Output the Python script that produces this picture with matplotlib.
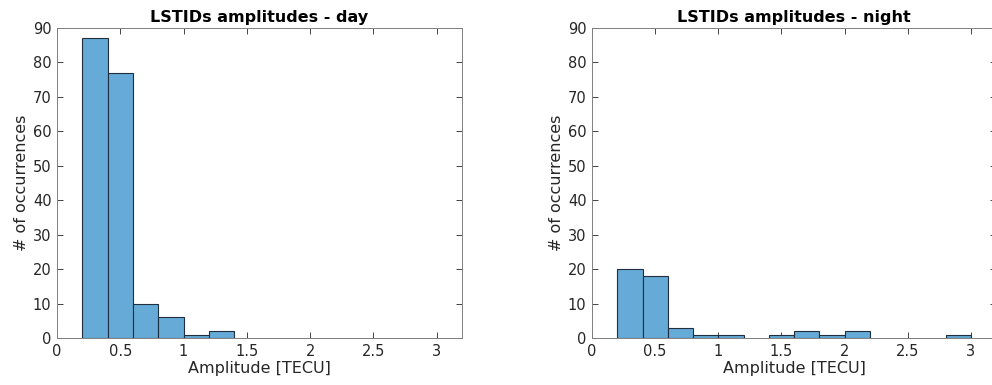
import numpy as np
import matplotlib
matplotlib.use('Agg')
import matplotlib.pyplot as plt

plt.rcParams['font.family'] = ['DejaVu Sans']

# bin edges (TECU), width 0.2
bin_edges = [0.2, 0.4, 0.6, 0.8, 1.0, 1.2, 1.4, 1.6, 1.8, 2.0, 2.2, 2.4, 2.6, 2.8, 3.0]
day_counts = [87, 77, 10, 6, 1, 2, 0, 0, 0, 0, 0, 0, 0, 0]
night_counts = [20, 18, 3, 1, 1, 0, 1, 2, 1, 2, 0, 0, 0, 1]
titles = ['LSTIDs amplitudes - day', 'LSTIDs amplitudes - night']
xticks = [0, 0.5, 1, 1.5, 2, 2.5, 3]
xticklabels = ['0', '0.5', '1', '1.5', '2', '2.5', '3']
yticks = np.arange(0, 100, 10)

face = '#66AAD7'
edge = '#1f2f3f'
axcol = '#262626'

fig = plt.figure(figsize=(9.92, 3.85), dpi=100)
positions = [[57 / 992, 47 / 385, 405 / 992, 310 / 385],
             [592 / 992, 47 / 385, 404 / 992, 310 / 385]]

for pos, counts, title in zip(positions, [day_counts, night_counts], titles):
    ax = fig.add_axes(pos)
    edges = np.array(bin_edges)
    for left, right, c in zip(edges[:-1], edges[1:], counts):
        if c > 0:
            ax.bar(left, c, width=right - left, align='edge', color=face,
                   edgecolor=edge, linewidth=0.8, zorder=2)
    ax.set_xlim(0, 3.2)
    ax.set_ylim(0, 90)
    ax.set_xticks(xticks)
    ax.set_xticklabels(xticklabels)
    ax.set_yticks(yticks)
    ax.tick_params(direction='in', top=True, right=True, length=4,
                   width=0.6, colors=axcol, labelsize=10.5, pad=4)
    for s in ax.spines.values():
        s.set_color('#808080')
        s.set_linewidth(0.7)
    ax.set_title(title, fontsize=11.5, fontweight='bold', pad=4, color='black')
    ax.set_xlabel('Amplitude [TECU]', fontsize=11.5, color=axcol, labelpad=2)
    ax.set_ylabel('# of occurrences', fontsize=11.5, color=axcol, labelpad=3)

fig.savefig('out.png', dpi=100)
